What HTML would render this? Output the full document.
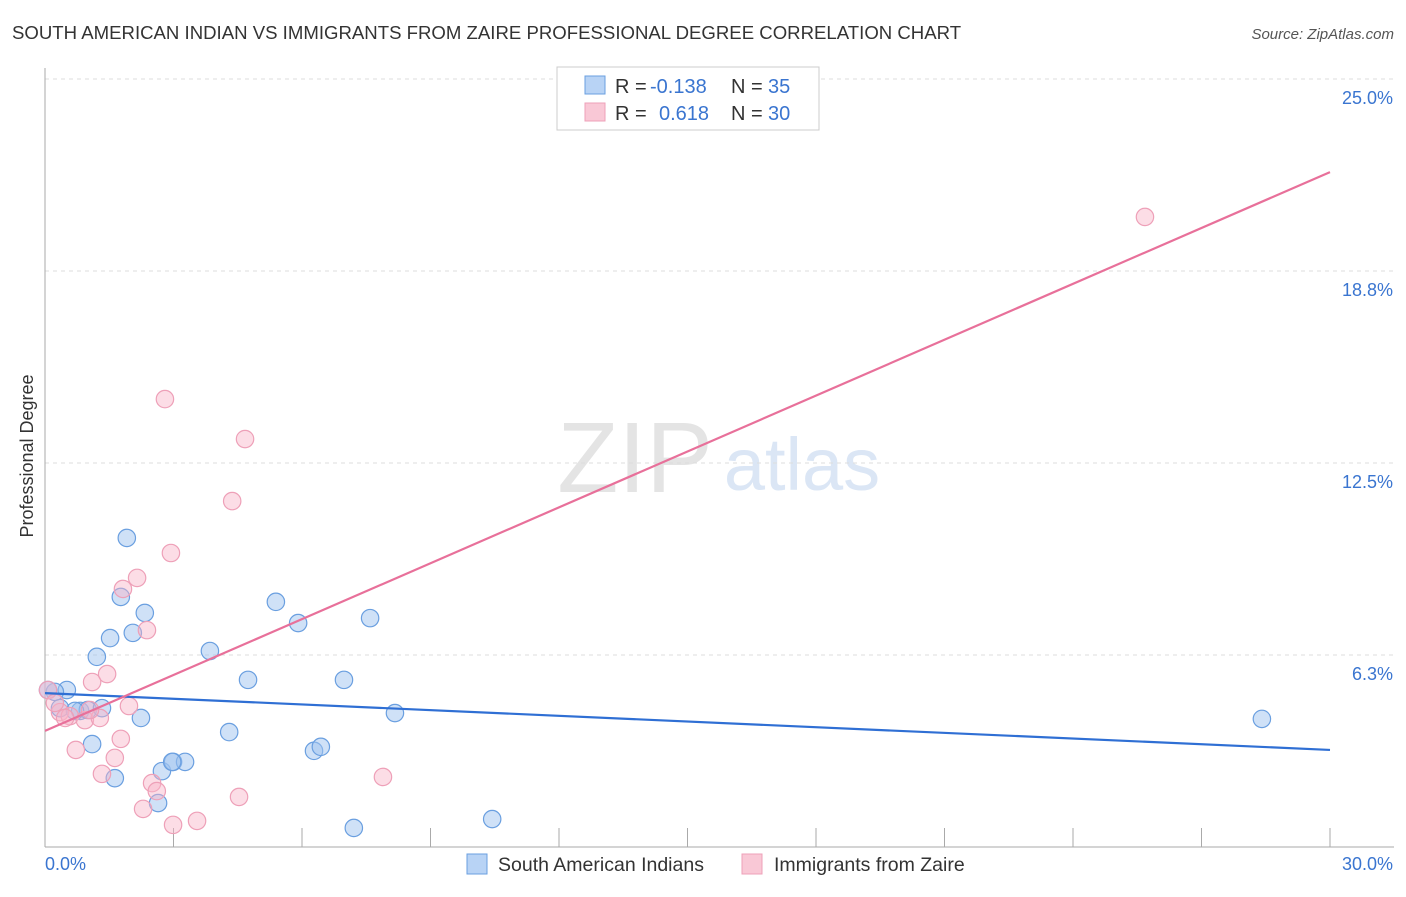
<!DOCTYPE html>
<html><head><meta charset="utf-8"><style>
body{margin:0;background:#fff;font-family:"Liberation Sans",sans-serif}
svg text{font-family:"Liberation Sans",sans-serif}
</style></head><body>
<svg id="c" width="1406" height="892">
<text x="12" y="39" font-size="18.6" fill="#333">SOUTH AMERICAN INDIAN VS IMMIGRANTS FROM ZAIRE PROFESSIONAL DEGREE CORRELATION CHART</text>
<text x="1394" y="39" font-size="15" fill="#555" font-style="italic" text-anchor="end">Source: ZipAtlas.com</text>
<text x="635" y="492" font-size="100" fill="#e4e4e4" font-family="Liberation Serif" text-anchor="middle">ZIP</text>
<text x="802" y="490" font-size="74" fill="#dbe6f5" text-anchor="middle">atlas</text>
<text transform="translate(33,456) rotate(-90)" font-size="18" fill="#333" text-anchor="middle">Professional Degree</text>
<g id="grid"></g><g id="pts"></g><g id="trend"></g>
<g>
<rect x="557" y="67" width="262" height="63" fill="#fff" stroke="#ccc"/>
<rect x="585" y="76" width="20" height="18" fill="#b8d3f5" stroke="#6a9fe0"/>
<rect x="585" y="103" width="20" height="18" fill="#f9c8d6" stroke="#eea0b8"/>
<text x="615" y="93" font-size="20" fill="#333">R =</text>
<text x="650" y="93" font-size="20" fill="#3a75d0">-0.138</text>
<text x="731" y="93" font-size="20" fill="#333">N =</text>
<text x="768" y="93" font-size="20" fill="#3a75d0">35</text>
<text x="615" y="120" font-size="20" fill="#333">R =</text>
<text x="659" y="120" font-size="20" fill="#3a75d0">0.618</text>
<text x="731" y="120" font-size="20" fill="#333">N =</text>
<text x="768" y="120" font-size="20" fill="#3a75d0">30</text>
</g>
<g>
<rect x="467" y="854" width="20" height="20" fill="#b8d3f5" stroke="#6a9fe0"/>
<text x="498" y="871" font-size="19.5" fill="#333">South American Indians</text>
<rect x="742" y="854" width="20" height="20" fill="#f9c8d6" stroke="#eea0b8"/>
<text x="774" y="871" font-size="19.5" fill="#333">Immigrants from Zaire</text>
</g>
<text x="45" y="870" font-size="18" fill="#3a75d0">0.0%</text>
<text x="1393" y="870" font-size="18" fill="#3a75d0" text-anchor="end">30.0%</text>
</svg>
<script>
const yTicks=[25,18.75,12.5,6.25];
const yTickLabels=["25.0%","18.8%","12.5%","6.3%"];
const blueX=[1.91,1.77,2.33,1.52,2.05,1.21,3.85,5.39,5.91,7.59,4.74,6.98,0.51,0.23,0.35,0.82,1.00,1.33,2.24,4.30,1.10,1.63,2.73,2.99,3.27,2.64,6.28,6.44,8.17,7.21,10.44,28.41,0.07,0.70,2.97];
const blueY=[10.06,8.14,7.62,6.80,6.97,6.19,6.38,7.98,7.29,7.45,5.44,5.44,5.11,5.05,4.52,4.43,4.46,4.52,4.20,3.74,3.35,2.24,2.47,2.77,2.77,1.43,3.13,3.26,4.36,0.62,0.91,4.17,5.11,4.43,2.77];
const pinkX=[25.68,2.80,4.67,4.37,2.94,2.15,1.82,2.38,1.45,1.10,1.96,0.35,0.58,0.93,1.28,1.77,0.72,1.63,1.33,2.50,2.61,2.29,2.99,3.55,4.53,7.89,0.07,0.23,0.47,1.05];
const pinkY=[20.51,14.58,13.28,11.26,9.57,8.76,8.40,7.06,5.63,5.37,4.59,4.39,4.26,4.13,4.20,3.52,3.16,2.90,2.38,2.08,1.82,1.24,0.72,0.85,1.63,2.28,5.11,4.69,4.20,4.46];
const blueTrend=[5.01,3.16];
const pinkTrend=[3.78,21.97];
const trendX=[0,30];
const X=v=>45+v*(1285/30), Y=v=>847-v*30.72;
const NS="http://www.w3.org/2000/svg";
function mk(t,a,p){const e=document.createElementNS(NS,t);for(const k in a)e.setAttribute(k,a[k]);p.appendChild(e);return e;}
const g=document.getElementById('grid');
yTicks.forEach((t,i)=>{
 const l=mk('line',{x1:45,x2:1394,y1:Y(t),y2:Y(t),stroke:'#ddd','stroke-dasharray':'4,4'},g);
 
 
 const tx=mk('text',{x:1393,y:Y(t)+25,'font-size':18,fill:'#3a75d0','text-anchor':'end'},g);
 tx.textContent=yTickLabels[i];
 
 
});
let ax=mk('line',{x1:45,x2:45,y1:68,y2:847,stroke:'#aaa'},g);


ax=mk('line',{x1:45,x2:1394,y1:847,y2:847,stroke:'#aaa'},g);


for(let i=1;i<=10;i++){const t=mk('line',{x1:X(i*3),x2:X(i*3),y1:828,y2:847,stroke:'#aaa'},g);
 
 }
const p=document.getElementById('pts');
blueX.forEach((v,i)=>{const c=mk('circle',{cx:X(v),cy:Y(blueY[i]),r:8.7,fill:'rgba(160,196,240,0.5)',stroke:'#6a9fe0','stroke-width':1.2},p);
 
 });
pinkX.forEach((v,i)=>{const c=mk('circle',{cx:X(v),cy:Y(pinkY[i]),r:8.7,fill:'rgba(248,180,200,0.45)',stroke:'#eea0b8','stroke-width':1.2},p);
 
 });
const tr=document.getElementById('trend');
let l=mk('line',{x1:X(trendX[0]),x2:X(trendX[1]),y1:Y(blueTrend[0]),y2:Y(blueTrend[1]),stroke:'#2f6fd4','stroke-width':2.2},tr);


l=mk('line',{x1:X(trendX[0]),x2:X(trendX[1]),y1:Y(pinkTrend[0]),y2:Y(pinkTrend[1]),stroke:'#e8709a','stroke-width':2.2},tr);


</script>
</body></html>
